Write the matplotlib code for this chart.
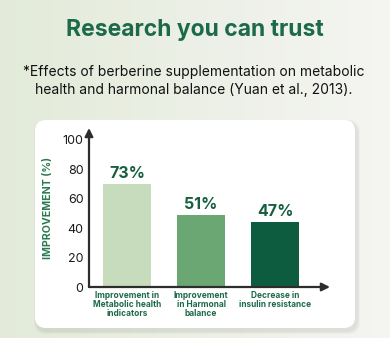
import matplotlib.pyplot as plt
from matplotlib.patches import FancyBboxPatch
import numpy as np

# data
categories = ["Improvement in\nMetabolic health\nindicators",
              "Improvement\nin Harmonal\nbalance",
              "Decrease in\ninsulin resistance"]
heights = [70, 49, 44]
labels = ["73%", "51%", "47%"]
colors = ["#c6dcbd", "#6ba773", "#0e5c40"]
yticks = [0, 20, 40, 60, 80, 100]

FONT = "Inter"
W, H = 390, 338
fig = plt.figure(figsize=(W / 100, H / 100), dpi=100)

# background gradient (greenish left -> light grey right)
bg = fig.add_axes([0, 0, 1, 1])
bg.set_axis_off()
xs = np.linspace(0, 1, 200)
c0 = np.array([0.89, 0.92, 0.85])
c1 = np.array([0.96, 0.96, 0.95])
grad = c0[None, None, :] + (c1 - c0)[None, None, :] * xs[None, :, None]
grad = np.repeat(grad, 2, axis=0)
bg.imshow(grad, aspect="auto", extent=[0, W, 0, H])
bg.set_xlim(0, W)
bg.set_ylim(0, H)

# soft shadow + white card
for i, a in enumerate([0.04, 0.04, 0.05]):
    s = 6 - 2 * i
    bg.add_patch(FancyBboxPatch((35 + 2 - s / 2, H - 328 - 3 - s / 2), 320 + s, 208 + s,
                                boxstyle="round,pad=0,rounding_size=12",
                                fc="#5a5a50", ec="none", alpha=a))
bg.add_patch(FancyBboxPatch((35, H - 328), 320, 208,
                            boxstyle="round,pad=0,rounding_size=11",
                            fc="white", ec="none"))

fig.text(195 / W, 1 - 30 / H, "Research you can trust", ha="center", va="center",
         fontsize=16.5, fontweight="bold", color="#1c6a49", family=FONT)
fig.text(194 / W, 1 - 81 / H,
         "*Effects of berberine supplementation on metabolic\nhealth and harmonal balance (Yuan et al., 2013).",
         ha="center", va="center", fontsize=10.0, color="#111111", linespacing=1.3,
         family=FONT)

# chart axes in pixel positions
x0, x1, y0, y1 = 89, 330, 287, 128
ax = fig.add_axes([x0 / W, 1 - y0 / H, (x1 - x0) / W, (y0 - y1) / H])
ax.patch.set_alpha(0)
pos = np.arange(len(heights))
ax.bar(pos, heights, width=0.65, color=colors)
for p, h, t in zip(pos, heights, labels):
    ax.text(p, h + 2, t, ha="center", va="bottom", fontsize=11.5,
            fontweight="bold", color="#17603f", family=FONT)

ax.set_xlim(-0.514, 2.74)
ax.set_ylim(0, 108)
for s in ax.spines.values():
    s.set_visible(False)
ax.annotate("", xy=(0, 1.0), xytext=(0, 0), xycoords="axes fraction",
            arrowprops=dict(arrowstyle="-|>", color="#2d2d2d", lw=1.6,
                            mutation_scale=12, shrinkA=0, shrinkB=0))
ax.annotate("", xy=(1.0, 0), xytext=(0, 0), xycoords="axes fraction",
            arrowprops=dict(arrowstyle="-|>", color="#2d2d2d", lw=1.6,
                            mutation_scale=12, shrinkA=0, shrinkB=0))

ax.set_yticks(yticks)
ax.set_yticklabels([str(v) for v in yticks], fontsize=9, color="#1a1a1a", family=FONT)
ax.tick_params(axis="y", length=0, pad=4)
ax.set_xticks(pos)
ax.set_xticklabels(categories, fontsize=6.0, fontweight="bold", color="#1b6a48",
                   linespacing=1.0, family=FONT)
ax.tick_params(axis="x", length=0, pad=3)
ax.set_ylabel("IMPROVEMENT (%)", fontsize=7.6, fontweight="bold", color="#2a7a4f",
              labelpad=7, family=FONT)

fig.savefig("out.png", dpi=100)
